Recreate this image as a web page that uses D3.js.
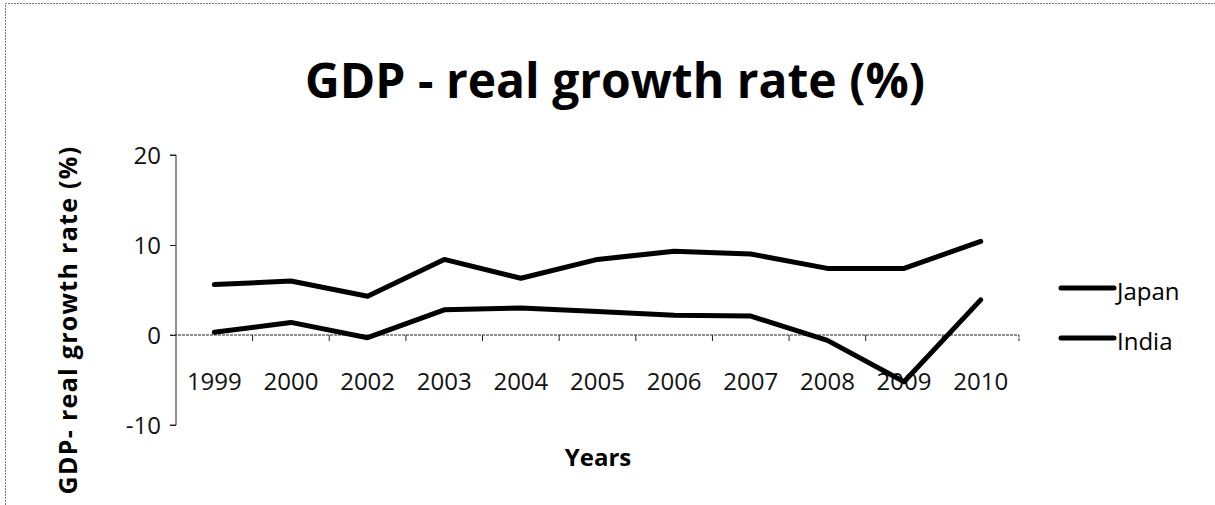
<!DOCTYPE html>
<html><head><meta charset="utf-8">
<script src="https://cdn.jsdelivr.net/npm/d3@7"></script>
<style>
html,body{margin:0;padding:0;background:#fff;overflow:hidden;}
svg{display:block;font-family:"Open Sans",sans-serif;}
</style></head>
<body><svg id="c" width="1215" height="505"></svg>
<script>
const years = ["1999","2000","2002","2003","2004","2005","2006","2007","2008","2009","2010"];
const japan = [0.3, 1.4, -0.3, 2.8, 3.0, 2.6, 2.2, 2.1, -0.6, -5.2, 3.9];
const india = [5.6, 6.0, 4.3, 8.4, 6.3, 8.4, 9.3, 9.0, 7.4, 7.4, 10.4];
const yTicks = [-10, 0, 10, 20];
const seriesNames = ["Japan", "India"];

const svg = d3.select("#c");
// outer frame (top and left edges visible)
svg.append("path").attr("d","M5.5,505V3.5H1215")
  .attr("fill","none").attr("stroke","#777").attr("stroke-width",1).attr("stroke-dasharray","2,1");

const x = d3.scaleBand().domain(years).range([176, 1019]);
const y = d3.scaleLinear().domain([-10, 20]).range([425, 155]);

// title
svg.append("text").attr("x",615).attr("y",98).attr("text-anchor","middle")
  .attr("font-size",48).attr("font-weight","bold").attr("fill","#000")
  .text("GDP - real growth rate (%)");

// y axis
const ya = svg.append("g").attr("transform","translate(176,0)")
  .call(d3.axisLeft(y).tickValues(yTicks).tickSize(6).tickPadding(9).tickFormat(d=>String(d)));
ya.selectAll("path,line").attr("stroke","#222");
ya.select(".domain").attr("d","M-6,"+y(20)+"H0V"+y(-10)+"H-6");
ya.selectAll("text").attr("font-size",24).attr("font-family","Open Sans").attr("fill","#111").attr("dy","0.35em");

// x axis at zero
const xa = svg.append("g").attr("transform",`translate(0,${y(0)})`)
  .call(d3.axisBottom(x).tickSize(0).tickPadding(38));
xa.select(".domain").attr("stroke","#222").attr("stroke-dasharray","3,1")
  .attr("d",`M${x.range()[0]-6},0H${x.range()[1]}V6`);
xa.selectAll("text").attr("font-size",24).attr("font-family","Open Sans").attr("fill","#111");
// band boundary tick marks
xa.selectAll(".bt").data(years.slice(1)).enter().append("line")
  .attr("x1",d=>x(d)).attr("x2",d=>x(d)).attr("y1",0).attr("y2",6).attr("stroke","#222");

// axis titles
svg.append("text").attr("x",598).attr("y",466).attr("text-anchor","middle")
  .attr("font-size",24).attr("font-weight","bold").text("Years");
svg.append("text").attr("transform","translate(77,320) rotate(-90)").attr("text-anchor","middle")
  .attr("font-size",25).attr("font-weight","bold").attr("letter-spacing",1.3).text("GDP- real growth rate (%)");

// lines
const line = d3.line().x((d,i)=>x(years[i])+x.bandwidth()/2).y(d=>y(d));
[japan, india].forEach(s=>{
  svg.append("path").datum(s).attr("d",line).attr("fill","none")
    .attr("stroke","#000").attr("stroke-width",5).attr("stroke-linejoin","round").attr("stroke-linecap","round");
});

// legend
const lg = svg.append("g");
seriesNames.forEach((n,i)=>{
  const yy = 288 + i*50;
  lg.append("line").attr("x1",1061).attr("x2",1114).attr("y1",yy).attr("y2",yy)
    .attr("stroke","#000").attr("stroke-width",5).attr("stroke-linecap","round");
  lg.append("text").attr("x",1117).attr("y",yy+7).attr("font-size",24).attr("dy","0.2em").text(n);
});
</script></body></html>
